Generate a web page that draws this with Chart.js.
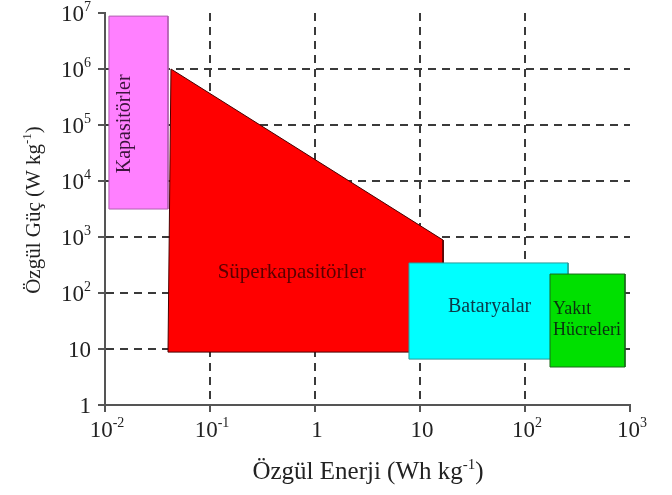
<!DOCTYPE html>
<html>
<head>
<meta charset="utf-8">
<script src="https://cdn.jsdelivr.net/npm/chart.js@4/dist/chart.umd.min.js"></script>
<style>
  html, body { margin: 0; padding: 0; background: #ffffff; }
  #wrap { width: 672px; height: 495px; }
</style>
</head>
<body>
<div id="wrap"><canvas id="myChart" width="672" height="495"></canvas></div>
<script>
// Ragone plot: specific energy (Wh/kg) vs specific power (W/kg)
var xTicks = [0.01, 0.1, 1, 10, 100, 1000];
var xTickBase = ['10', '10', '1', '10', '10', '10'];
var xTickExp = ['-2', '-1', '', '', '2', '3'];
var yTicks = [1, 10, 100, 1e3, 1e4, 1e5, 1e6, 1e7];
var yTickBase = ['1', '10', '10', '10', '10', '10', '10', '10'];
var yTickExp = ['', '', '2', '3', '4', '5', '6', '7'];

// polygon corners (energy, power)
var capE = [0.0109, 0.0398, 0.0398, 0.0109, 0.0109];
var capP = [8.8e6, 8.8e6, 3160, 3160, 8.8e6];
var superE = [0.0425, 16.6, 16.6, 0.0398, 0.0425];
var superP = [1e6, 880, 8.8, 8.8, 1e6];
var battE = [7.85, 257, 257, 7.85, 7.85];
var battP = [344, 344, 6.6, 6.6, 344];
var fuelE = [173, 896, 896, 173, 173];
var fuelP = [218, 218, 4.77, 4.77, 218];

// region labels
var labels = [
    { text: 'Kapasitörler', x: 0.0155, y: 1.05e5, rot: true, color: '#3c143c', align: 'center', size: 20 },
    { text: 'Süperkapasitörler', x: 0.6, y: 230, rot: false, color: '#5a0000', align: 'center', size: 21 },
    { text: 'Bataryalar', x: 46, y: 56, rot: false, color: '#0c3848', align: 'center', size: 20 },
    { text: 'Yakıt', x: 185, y: 52, rot: false, color: '#0a3010', align: 'left', size: 18 },
    { text: 'Hücreleri', x: 185, y: 21.8, rot: false, color: '#0a3010', align: 'left', size: 18 }
];

var SERIF = '"Liberation Serif", "DejaVu Serif", serif';

function pts(xs, ys) {
    var out = [];
    for (var i = 0; i < xs.length; i++) out.push({ x: xs[i], y: ys[i] });
    return out;
}

function shape(data, fillCol, lineCol, ord) {
    return {
        data: data,
        showLine: true,
        fill: 'shape',
        backgroundColor: fillCol,
        borderColor: lineCol,
        borderWidth: 1,
        pointRadius: 0,
        tension: 0,
        order: ord
    };
}

// text with a superscript part
function supText(ctx, base, exp, x, y, size, align) {
    var es = Math.round(size * 0.6);
    ctx.font = size + 'px ' + SERIF;
    var wb = ctx.measureText(base).width;
    ctx.font = es + 'px ' + SERIF;
    var we = exp ? ctx.measureText(exp).width : 0;
    var w = wb + we;
    var x0 = align === 'right' ? x - w : (align === 'center' ? x - w / 2 : x);
    ctx.textAlign = 'left';
    ctx.textBaseline = 'alphabetic';
    ctx.font = size + 'px ' + SERIF;
    ctx.fillText(base, x0, y);
    if (exp) {
        ctx.font = es + 'px ' + SERIF;
        ctx.fillText(exp, x0 + wb, y - size * 0.42);
    }
}

// title like "xxx kg" + superscript "-1" + ")"
function titleText(ctx, main, x, y, size) {
    var es = Math.round(size * 0.6);
    ctx.font = size + 'px ' + SERIF;
    var w1 = ctx.measureText(main).width;
    var w3 = ctx.measureText(')').width;
    ctx.font = es + 'px ' + SERIF;
    var w2 = ctx.measureText('-1').width;
    var x0 = x - (w1 + w2 + w3) / 2;
    ctx.textAlign = 'left';
    ctx.textBaseline = 'alphabetic';
    ctx.font = size + 'px ' + SERIF;
    ctx.fillText(main, x0, y);
    ctx.fillText(')', x0 + w1 + w2, y);
    ctx.font = es + 'px ' + SERIF;
    ctx.fillText('-1', x0 + w1, y - size * 0.42);
}

var textPlugin = {
    id: 'ragoneText',
    afterDraw: function(chart) {
        var ctx = chart.ctx;
        var xs = chart.scales.x, ys = chart.scales.y;
        ctx.save();
        ctx.fillStyle = '#222';
        // tick labels
        for (var i = 0; i < xTicks.length; i++) {
            supText(ctx, xTickBase[i], xTickExp[i], xs.getPixelForValue(xTicks[i]) + 2, 437, 23, 'center');
        }
        for (var j = 0; j < yTicks.length; j++) {
            supText(ctx, yTickBase[j], yTickExp[j], 91, ys.getPixelForValue(yTicks[j]) + 8, 23, 'right');
        }
        // axis titles
        titleText(ctx, 'Özgül Enerji (Wh kg', 368, 479, 25);
        ctx.save();
        ctx.translate(40, 210);
        ctx.rotate(-Math.PI / 2);
        titleText(ctx, 'Özgül Güç (W kg', 0, 0, 21);
        ctx.restore();

        // region labels
        ctx.textBaseline = 'middle';
        labels.forEach(function(l) {
            var px = xs.getPixelForValue(l.x), py = ys.getPixelForValue(l.y);
            ctx.font = l.size + 'px ' + SERIF;
            ctx.fillStyle = l.color;
            ctx.save();
            ctx.translate(px, py);
            if (l.rot) ctx.rotate(-Math.PI / 2);
            ctx.textAlign = l.align;
            ctx.fillText(l.text, 0, 0);
            ctx.restore();
        });
        ctx.restore();
    }
};

var bgPlugin = {
    id: 'bg',
    beforeDraw: function(chart) {
        var ctx = chart.ctx;
        ctx.save();
        ctx.fillStyle = '#ffffff';
        ctx.fillRect(0, 0, chart.width, chart.height);
        ctx.restore();
    }
};

function decadeTicks(list) {
    return function(scale) {
        scale.ticks = list.map(function(v) { return { value: v }; });
    };
}

function gridOpts(lo, hi) {
    return {
        drawTicks: true,
        tickLength: 7,
        tickColor: '#555',
        tickWidth: 2,
        lineWidth: 2,
        color: function(c) {
            var v = c.tick ? c.tick.value : 0;
            return (v <= lo || v >= hi) ? 'rgba(0,0,0,0)' : '#3a3a3a';
        }
    };
}

var ctx = document.getElementById('myChart');
var chart = new Chart(ctx, {
    type: 'scatter',
    data: {
        datasets: [
            shape(pts(fuelE, fuelP), '#00e000', '#1a6a1a', 1),
            shape(pts(battE, battP), '#00ffff', '#2a9a9a', 2),
            shape(pts(superE, superP), '#ff0000', '#4a0000', 3),
            shape(pts(capE, capP), '#ff80ff', '#b060b0', 4)
        ]
    },
    options: {
        responsive: false,
        animation: false,
        events: [],
        layout: { padding: { left: 98, right: 42, top: 13, bottom: 83 } },
        plugins: {
            legend: { display: false },
            tooltip: { enabled: false }
        },
        scales: {
            x: {
                type: 'logarithmic',
                min: 0.01,
                max: 1000,
                afterBuildTicks: decadeTicks(xTicks),
                ticks: { display: false },
                border: { display: true, color: '#555', width: 2, dash: [8, 6] },
                grid: gridOpts(0.01, 1000)
            },
            y: {
                type: 'logarithmic',
                min: 1,
                max: 1e7,
                afterBuildTicks: decadeTicks(yTicks),
                ticks: { display: false },
                border: { display: true, color: '#555', width: 2, dash: [8, 6] },
                grid: gridOpts(1, 1e7)
            }
        }
    },
    plugins: [bgPlugin, textPlugin]
});
</script>
</body>
</html>
